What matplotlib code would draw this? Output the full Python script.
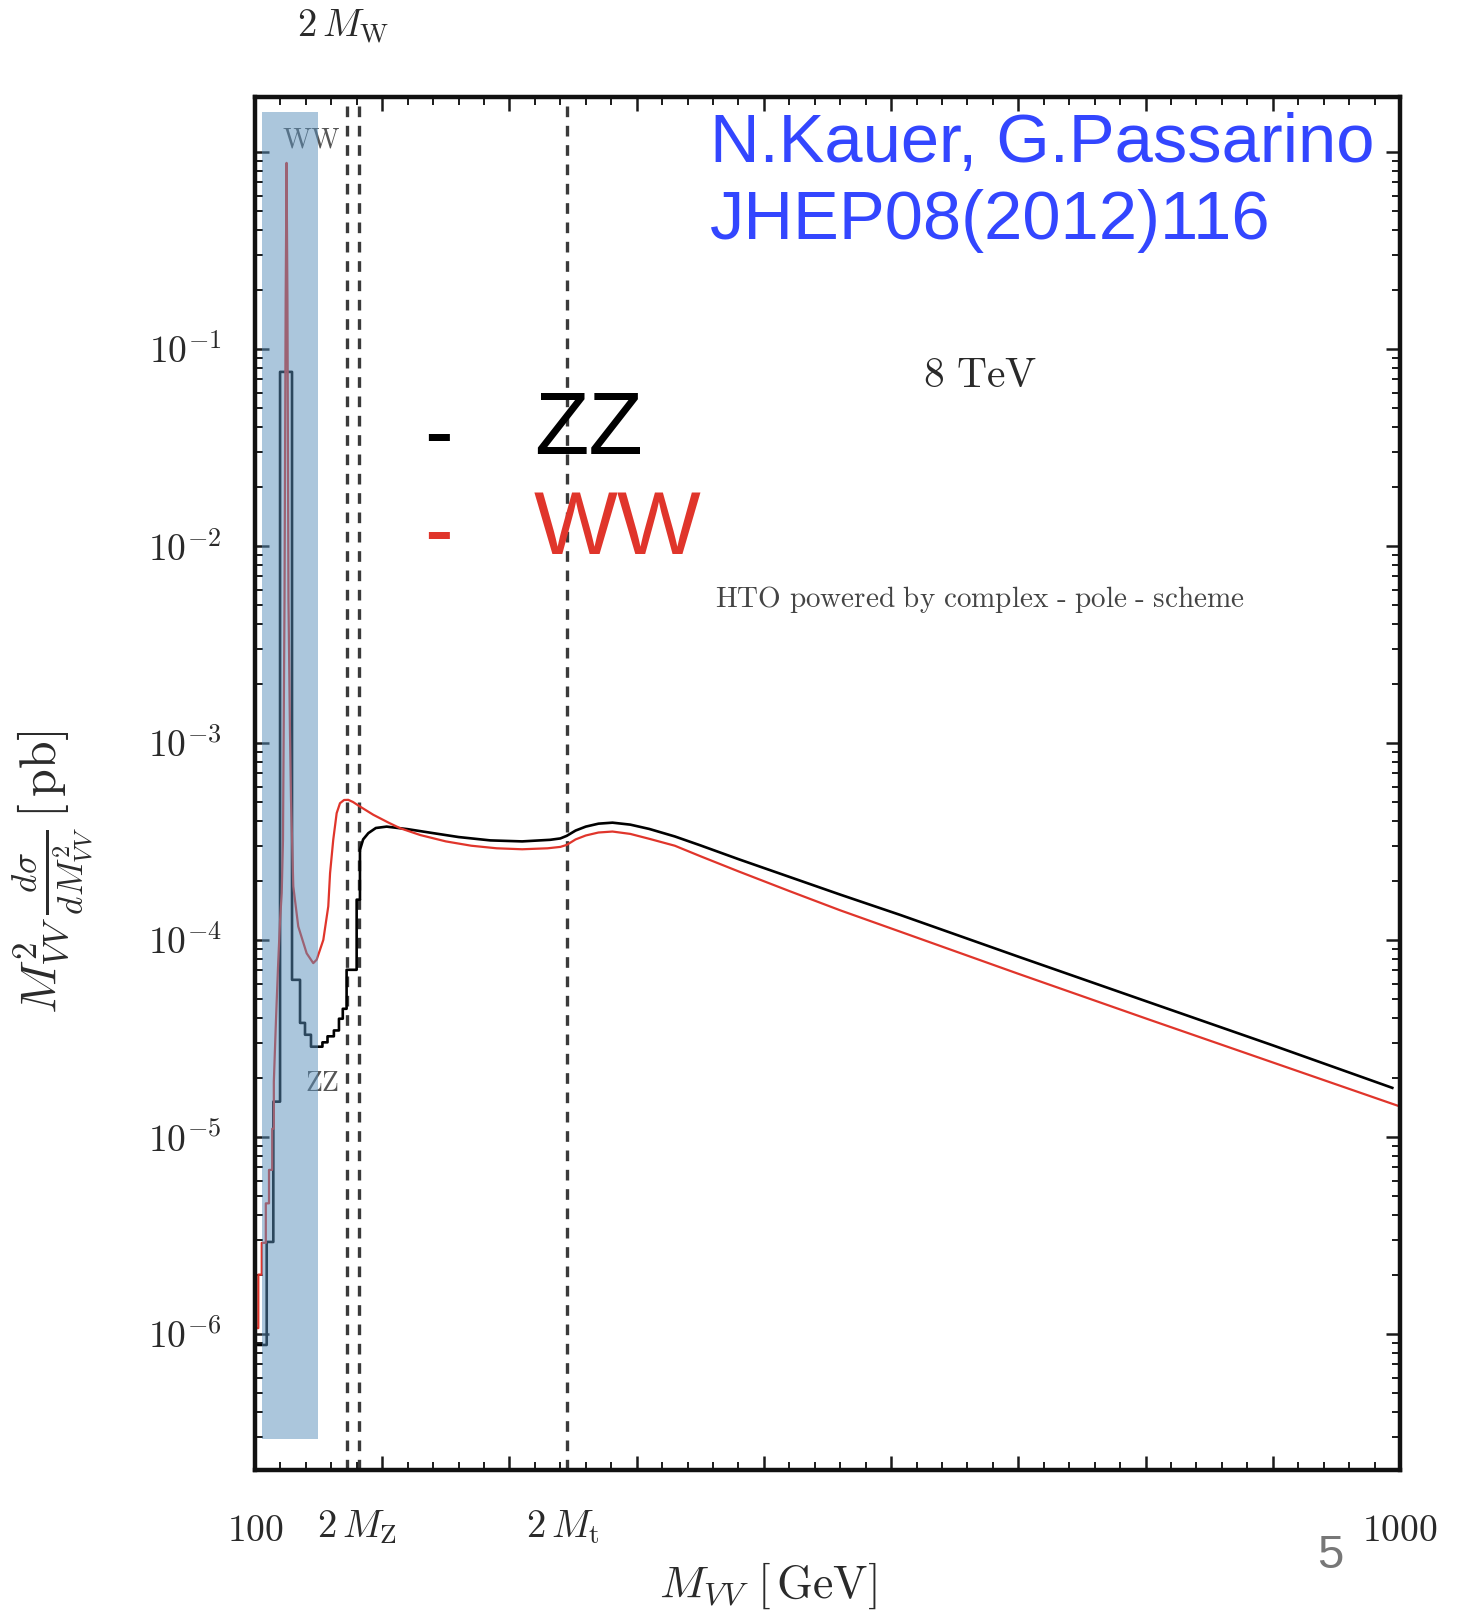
import numpy as np
import matplotlib
matplotlib.use('Agg')
import matplotlib.pyplot as plt
from matplotlib.ticker import FixedLocator, LogLocator, NullFormatter

plt.rcParams['mathtext.fontset'] = 'cm'

########### data (M_VV in GeV, cross section in pb)

zz_mass = [100.8, 109.2, 109.2, 114.4, 114.4, 119.7, 119.7, 129.1, 129.1, 135.4,
           135.4, 139.3, 139.3, 144.0, 144.0, 153.0, 153.0, 157.0, 157.0, 162.0,
           162.0, 166.0, 166.0, 169.0, 169.0, 172.0, 172.0, 179.9, 179.9, 182.5,
           182.5, 185.0, 189.1, 195.0, 203.5, 220.0, 240.0, 260.0, 285.0, 310.0,
           332.0, 340.0, 345.0, 352.0, 360.0, 370.0, 381.0, 395.0, 410.0, 430.0,
           450.0, 480.0, 520.0, 560.0, 607.0, 700.0, 803.0, 900.0, 994.0]
zz_xsec = [8.79e-7, 8.79e-7, 2.93e-6, 2.93e-6, 1.51e-5, 1.51e-5, 7.64e-2, 7.64e-2, 6.27e-5, 6.27e-5,
           3.79e-5, 3.79e-5, 3.30e-5, 3.30e-5, 2.87e-5, 2.87e-5, 3.02e-5, 3.02e-5, 3.24e-5, 3.24e-5,
           3.47e-5, 3.47e-5, 3.98e-5, 3.98e-5, 4.47e-5, 4.47e-5, 7.05e-5, 7.05e-5, 1.60e-4, 1.60e-4,
           2.864e-4, 3.236e-4, 3.483e-4, 3.698e-4, 3.758e-4, 3.648e-4, 3.483e-4, 3.327e-4, 3.199e-4, 3.162e-4,
           3.221e-4, 3.273e-4, 3.373e-4, 3.589e-4, 3.758e-4, 3.890e-4, 3.936e-4, 3.846e-4, 3.656e-4, 3.350e-4,
           3.020e-4, 2.570e-4, 2.089e-4, 1.698e-4, 1.340e-4, 8.222e-5, 4.819e-5, 2.917e-5, 1.774e-5]

ww_mass = [101.6, 102.6, 102.6, 105.3, 105.3, 108.5, 108.5, 111.0, 111.0, 113.5,
           113.5, 114.8, 114.8, 116.5, 118.1, 119.7, 121.0, 122.0, 123.2, 124.1,
           124.8, 125.5, 126.3, 127.5, 128.3, 130.1, 134.0, 140.6, 145.8, 148.5,
           153.7, 157.6, 159.0, 161.5, 164.2, 166.8, 170.0, 173.3, 177.0, 182.5,
           193.0, 205.0, 214.0, 230.0, 250.0, 270.0, 290.0, 310.0, 330.0, 340.0,
           345.0, 352.0, 360.0, 370.0, 381.0, 395.0, 410.0, 430.0, 450.0, 480.0,
           520.0, 560.0, 607.0, 700.0, 803.0, 900.0, 998.0]
ww_xsec = [1.07e-6, 1.07e-6, 2.0e-6, 2.0e-6, 2.9e-6, 2.9e-6, 4.6e-6, 4.6e-6, 6.8e-6, 6.8e-6,
           1.1e-5, 1.1e-5, 1.9e-5, 3.93e-5, 7.29e-5, 1.26e-4, 1.73e-4, 3.22e-4, 5.32e-3, 0.177,
           0.879, 0.177, 5.32e-3, 1.12e-3, 5.14e-4, 1.87e-4, 1.17e-4, 8.55e-5, 7.62e-5, 7.94e-5,
           1.00e-4, 1.48e-4, 2.18e-4, 3.22e-4, 4.40e-4, 4.94e-4, 5.129e-4, 5.140e-4, 5.012e-4, 4.753e-4,
           4.315e-4, 3.936e-4, 3.690e-4, 3.404e-4, 3.162e-4, 3.006e-4, 2.917e-4, 2.884e-4, 2.917e-4, 2.965e-4,
           3.034e-4, 3.236e-4, 3.388e-4, 3.508e-4, 3.548e-4, 3.451e-4, 3.258e-4, 3.006e-4, 2.661e-4, 2.228e-4,
           1.770e-4, 1.413e-4, 1.102e-4, 6.730e-5, 3.936e-5, 2.388e-5, 1.442e-5]

# thresholds 2M_W, 2M_Z, 2M_t
thresholds = [172.5, 181.7, 345.0]
threshold_labels = [r'$2\,M_{\rm W}$', r'$2\,M_{\rm Z}$', r'$2\,M_{\rm t}$']
threshold_label_x = [169.2, 180.2, 342.0]

x_major = [100, 200, 300, 400, 500, 600, 700, 800, 900, 1000]
x_labels = [r'$100$', '', '', '', '', '', '', '', '', r'$1000$']
y_major = [1e0, 1e-1, 1e-2, 1e-3, 1e-4, 1e-5, 1e-6]
y_labels = ['', r'$10^{-1}$', r'$10^{-2}$', r'$10^{-3}$', r'$10^{-4}$', r'$10^{-5}$', r'$10^{-6}$']

band_x = [105.3, 149.3]
band_y = [2.93e-7, 1.60]

zz_color = 'black'
ww_color = '#e0352b'
text_col = '#2a2a2a'

############ figure

fig = plt.figure(figsize=(14.63, 16.10), dpi=100)
ax = fig.add_axes([0.1743, 0.0870, 0.7826, 0.8528])
ax.set_yscale('log')
ax.set_xlim(100, 1000)
ax.set_ylim(2.04e-7, 1.90)

ax.plot(zz_mass, zz_xsec, color=zz_color, lw=1.9, zorder=2)
ax.plot(ww_mass, ww_xsec, color=ww_color, lw=1.6, zorder=2)

# shaded low-mass region, drawn over the curves
ax.fill_between(band_x, band_y[0], band_y[1], color='#598fbb', alpha=0.5, lw=0, zorder=3)

for xt in thresholds:
    ax.axvline(xt, color='#3a3a3a', lw=2.4, ls=(0, (3.2, 2.6)), zorder=1)

ax.text(144.6, 1.15, r'$\mathrm{WW}$', fontsize=20, color='#555555', ha='center', va='center', zorder=1)
ax.text(152.4, 1.88e-5, r'$\mathrm{ZZ}$', fontsize=20, color='#555555', ha='center', va='center', zorder=1)

# threshold labels
tr = ax.get_xaxis_transform()
ax.text(threshold_label_x[0], 1.051, threshold_labels[0], transform=tr, fontsize=28,
        color=text_col, ha='center', va='center')
ax.text(threshold_label_x[1], -0.0415, threshold_labels[1], transform=tr, fontsize=28,
        color=text_col, ha='center', va='center')
ax.text(threshold_label_x[2], -0.0415, threshold_labels[2], transform=tr, fontsize=28,
        color=text_col, ha='center', va='center')

# ticks
ax.xaxis.set_major_locator(FixedLocator(x_major))
ax.set_xticklabels(x_labels)
ax.xaxis.set_minor_locator(FixedLocator(np.arange(100, 1001, 20)))
ax.yaxis.set_major_locator(FixedLocator(y_major))
ax.set_yticklabels(y_labels)
ax.yaxis.set_minor_locator(LogLocator(base=10, subs=np.arange(2, 10), numticks=20))
ax.yaxis.set_minor_formatter(NullFormatter())

ax.tick_params(which='both', direction='in', top=True, right=True, colors='#1a1a1a',
               labelcolor=text_col, labelsize=27)
ax.tick_params(which='major', length=10, width=1.8)
ax.tick_params(which='minor', length=5.5, width=1.4)
ax.tick_params(axis='x', which='major', pad=31)
ax.tick_params(axis='y', which='major', pad=24)
for s in ax.spines.values():
    s.set_linewidth(3.2)
    s.set_color('#111111')

ax.set_xlabel(r'$M_{VV}\ [\,\mathrm{GeV}]$', fontsize=33, color=text_col)
ax.xaxis.set_label_coords(0.448, -0.066)
fig.text(0.036, 0.458, r'$M^2_{VV}\,\frac{d\sigma}{dM^2_{VV}}\,[\,\mathrm{pb}]$', fontsize=36,
         color=text_col, rotation=90, ha='center', va='center')

# annotations
ax.text(669.9, 7.38e-2, r'$\mathrm{8\ TeV}$', fontsize=30, color=text_col, ha='center', va='center')
ax.text(669.9, 5.32e-3, r'$\mathrm{HTO\ powered\ by\ complex\ \text{-}\ pole\ \text{-}\ scheme}$',
        fontsize=21, color='#444444', ha='center', va='center')

ax.text(457.6, 1.098, 'N.Kauer, G.Passarino', fontsize=49.5, family='Liberation Sans',
        color='#3346ff', ha='left', va='center')
ax.text(457.6, 0.447, 'JHEP08(2012)116', fontsize=49.5, family='Liberation Sans',
        color='#3346ff', ha='left', va='center')

# hand-made legend
ax.text(244.6, 3.53e-2, '-', fontsize=62, family='Liberation Sans', color=zz_color, ha='center', va='center')
ax.text(319.3, 3.84e-2, 'ZZ', fontsize=64, family='Liberation Sans', color=zz_color, ha='left', va='center')
ax.text(244.6, 1.12e-2, '-', fontsize=62, family='Liberation Sans', color=ww_color, ha='center', va='center')
ax.text(319.3, 1.19e-2, 'WW', fontsize=64, family='Liberation Sans', color=ww_color, ha='left', va='center')

# slide page number
fig.text(0.909, 0.0335, '5', fontsize=34, family='Liberation Sans', color='#777777', ha='center', va='center')

fig.savefig('out.png', dpi=100)
